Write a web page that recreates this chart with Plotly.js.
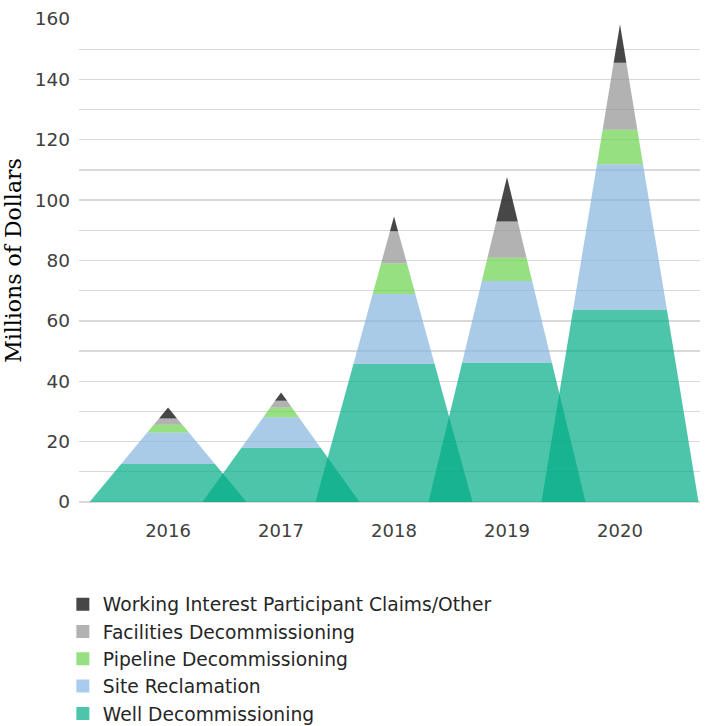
<!DOCTYPE html>
<html>
<head>
<meta charset="utf-8">
<script src="https://cdn.plot.ly/plotly-3.0.1.min.js"></script>
<style>html,body{margin:0;padding:0;background:#fff;}#chart{width:705px;height:726px;}</style>
</head>
<body>
<div id="chart"></div>
<script>
const years = ['2016', '2017', '2018', '2019', '2020'];
const wellDecommissioning = [12.6, 18.0, 45.8, 46.1, 63.7];
const siteReclamation = [10.4, 10.1, 23.1, 27.1, 48.2];
const pipelineDecommissioning = [2.6, 3.2, 10.2, 7.7, 11.4];
const facilitiesDecommissioning = [2.1, 2.2, 10.6, 12.0, 22.2];
const workingInterest = [3.6, 2.8, 4.9, 14.8, 12.8];

const seriesNames = ['Well Decommissioning', 'Site Reclamation', 'Pipeline Decommissioning', 'Facilities Decommissioning', 'Working Interest Participant Claims/Other'];
const seriesValues = [wellDecommissioning, siteReclamation, pipelineDecommissioning, facilitiesDecommissioning, workingInterest];
const colors = ['rgba(1,172,134,0.7)', 'rgba(132,181,221,0.7)', 'rgba(106,211,75,0.7)', 'rgba(145,145,145,0.7)', 'rgba(30,30,30,0.82)'];
const legendColors = ['#4dc5aa', '#a9cbee', '#97e081', '#b2b2b2', '#474747'];

const halfWidth = 0.695;
const traces = [];
years.forEach((yr, i) => {
  const total = seriesValues.reduce((s, arr) => s + arr[i], 0);
  let base = 0;
  seriesValues.forEach((arr, k) => {
    const top = base + arr[i];
    const wb = halfWidth * (1 - base / total);
    const wt = halfWidth * (1 - top / total);
    traces.push({
      type: 'scatter', mode: 'lines', fill: 'toself',
      x: [i - wb, i - wt, i + wt, i + wb, i - wb],
      y: [base, top, top, base, base],
      line: {width: 0, color: colors[k]},
      fillcolor: colors[k],
      name: seriesNames[k],
      showlegend: false,
      hoverinfo: 'skip'
    });
    base = top;
  });
});
seriesNames.forEach((nm, k) => {
  traces.push({
    type: 'scatter', mode: 'markers', x: [null], y: [null],
    name: nm, showlegend: true,
    marker: {symbol: 'square', size: 13, color: legendColors[k]}
  });
});

const layout = {
  width: 705, height: 726,
  margin: {l: 79, r: 5, t: 19, b: 224},
  paper_bgcolor: '#fff', plot_bgcolor: '#fff',
  font: {family: 'DejaVu Sans, sans-serif', color: '#404040'},
  showlegend: true,
  legend: {
    xref: 'paper', x: -0.026, xanchor: 'left',
    yref: 'container', y: 0.1935, yanchor: 'top',
    traceorder: 'reversed', font: {size: 18.7, color: '#262626'},
    tracegroupgap: 0, itemwidth: 30
  },
  xaxis: {
    range: [-0.788, 4.708],
    tickvals: [0, 1, 2, 3, 4], ticktext: years,
    showgrid: false, zeroline: false, showline: false,
    ticks: '', tickfont: {size: 18, color: '#404040'}, ticklabelstandoff: 16
  },
  yaxis: {
    range: [0, 160], dtick: 20, tick0: 0,
    showgrid: true, gridcolor: '#d9d9d9', gridwidth: 1.3,
    minor: {dtick: 10, showgrid: true, gridcolor: '#d9d9d9', gridwidth: 1.3},
    zeroline: true, zerolinecolor: '#d9d9d9', zerolinewidth: 1.3,
    ticks: '', tickfont: {size: 18.5, color: '#404040'}, ticklabelstandoff: 8,
    title: {text: 'Millions of Dollars', font: {family: 'DejaVu Serif, serif', size: 22, color: '#000'}, standoff: 6}
  }
};
Plotly.newPlot('chart', traces, layout, {displayModeBar: false, staticPlot: true});
</script>
</body>
</html>
